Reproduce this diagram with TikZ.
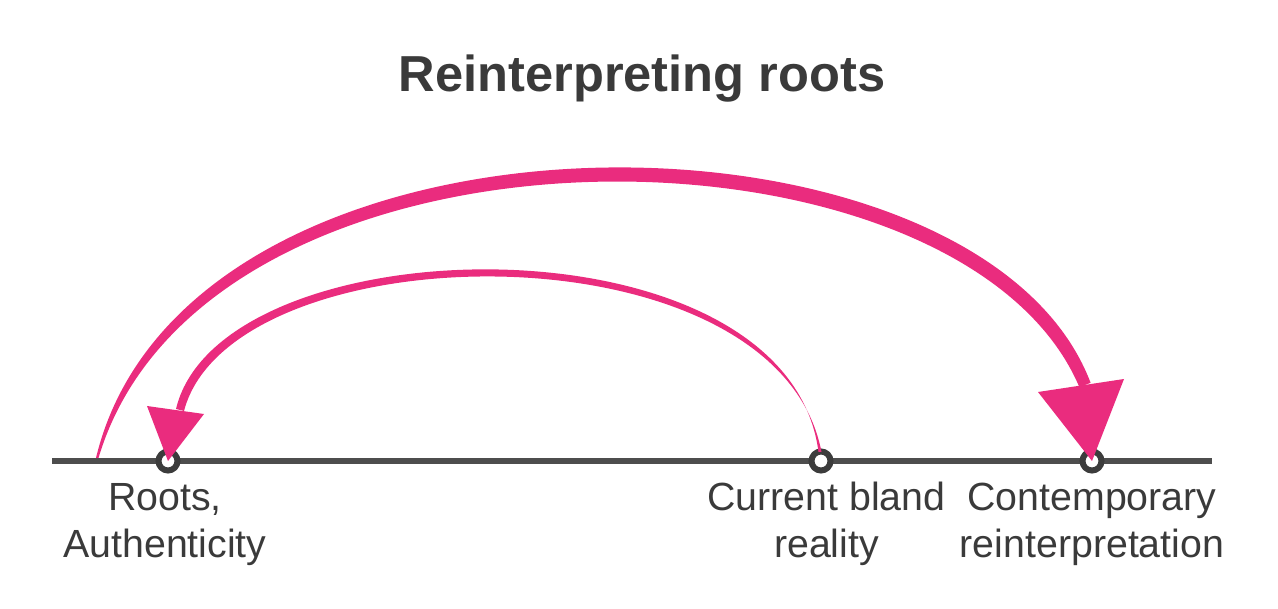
\documentclass[tikz,border=0pt]{standalone}
\usepackage{fontspec}
\setmainfont{Liberation Sans}
\definecolor{arcpink}{HTML}{EA2C7E}
\definecolor{axisgray}{HTML}{4D4D4D}
\definecolor{dotgray}{HTML}{3C3C3C}
\definecolor{textgray}{HTML}{3A3A3A}
\begin{document}
\begin{tikzpicture}[x=1pt,y=-1pt,
  dotnode/.style={circle,draw=dotgray,fill=white,line width=6pt,minimum size=19pt,inner sep=0pt},
  labeltext/.style={anchor=base,inner sep=0pt,text=textgray,font=\fontsize{39.3}{47}\selectfont},
  titletext/.style={anchor=base,inner sep=0pt,text=textgray,font=\fontsize{50.6}{58}\selectfont\bfseries},
  arcfill/.style={fill=arcpink}]
\useasboundingbox (0,0) rectangle (1278,609);
% axis
\coordinate (axisL) at (52,461);
\coordinate (axisR) at (1212,461);
\draw[axisgray,line width=6pt] (axisL) -- (axisR);
% points
\node[dotnode] (roots) at (168,461) {};
\node[dotnode] (current) at (821,461) {};
\node[dotnode] (contemp) at (1092,461) {};
% title
\node[titletext] (title) at (642,92) {Reinterpreting roots};
% labels
\node[labeltext] (rootsA) at (165,511) {Roots,};
\node[labeltext] (rootsB) at (165,558) {Authenticity};
\node[labeltext] (currentA) at (826.5,511) {Current bland};
\node[labeltext] (currentB) at (826.5,558) {reality};
\node[labeltext] (contempA) at (1092,511) {Contemporary};
\node[labeltext] (contempB) at (1092,558) {reinterpretation};
% outer arc: roots -> contemporary
\fill[arcfill] (96,458) .. controls (186.5,81) and (978.4,87) .. (1090.6,382.8)
  -- (1079.4,387.2) .. controls (959.6,105) and (205.5,99) .. (98.5,458) -- cycle;
\fill[arcfill] (1038,392) -- (1124,379) -- (contemp.center) ++(0,-4) -- cycle;
% inner arc: current -> roots
\fill[arcfill] (818.5,452) .. controls (787.3,210.4) and (220.7,221.5) .. (176,409)
  -- (184,411) .. controls (231.3,230.5) and (776.7,219.6) .. (821.5,452) -- cycle;
\fill[arcfill] (147,406) -- (204,414) -- (roots.center) ++(0,-6) -- cycle;
\end{tikzpicture}
\end{document}
